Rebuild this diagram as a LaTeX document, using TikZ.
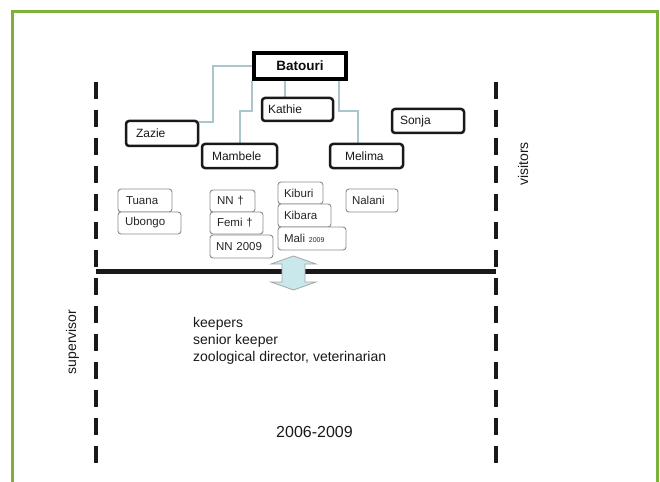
\documentclass[tikz,border=0pt]{standalone}
\usepackage{fontspec}
\setmainfont{Liberation Sans}
\usetikzlibrary{backgrounds}
\definecolor{framec}{RGB}{124,178,60}
\definecolor{connc}{RGB}{168,198,204}
\definecolor{arrowc}{RGB}{200,232,236}
\begin{document}
\begin{tikzpicture}[x=1pt,y=-1pt,
  conn/.style={draw=connc, line width=2pt},
  bigbox/.style={draw=black, line width=3.5pt, fill=white, minimum width=92pt, minimum height=26pt, inner sep=0pt, font=\fontsize{13.5}{15}\selectfont\bfseries, text=black!95},
  namebox/.style={draw=black!90, line width=2.5pt, rounded corners=3pt, fill=white, inner ysep=0pt, align=left, font=\fontsize{12}{14}\selectfont, text=black!90},
  smallbox/.style={draw=gray!90, line width=0.9pt, rounded corners=3pt, fill=white, inner ysep=0pt, align=left, font=\fontsize{11.5}{13}\selectfont, text=black!85},
  dashline/.style={line width=4pt, dash pattern=on 17pt off 11pt, draw=black!90},
  lbl/.style={font=\fontsize{14}{17}\selectfont, text=black!90, inner sep=0pt}
]
\useasboundingbox (0,0) rectangle (660,481);

% frame
\coordinate (fbl) at (12,483);
\coordinate (ftl) at (12,12);
\coordinate (ftr) at (657,12);
\coordinate (fbr) at (657,483);
\draw[framec, line width=3pt] (fbl) -- (ftl) -- (ftr) -- (fbr);

% dashed borders
\coordinate (lt) at (96,82);
\coordinate (lb) at (96,463);
\coordinate (rt) at (496,82);
\coordinate (rb) at (496,463);
\draw[dashline] (lt) -- (lb);
\draw[dashline] (rt) -- (rb);

% horizontal line
\coordinate (hl) at (96,271);
\coordinate (hr) at (496,271);
\draw[line width=5pt, black!90] (hl) -- (hr);

% double arrow
\coordinate (arr) at (293.5,273);
\draw[fill=arrowc, draw=gray!70, line width=0.8pt] (arr) ++(0,-17) -- ++(-22.5,8) -- ++(11,0) -- ++(0,18) -- ++(-11,0) -- ++(22.5,8) -- ++(22.5,-8) -- ++(-11,0) -- ++(0,-18) -- ++(11,0) -- cycle;

% family nodes
\node[bigbox] (batouri) at (300,66) {Batouri};
\node[namebox, minimum height=23pt, text width=59pt, inner xsep=6pt] (kathie) at (297.5,109.5) {Kathie};
\node[namebox, minimum height=25pt, text width=52pt, inner xsep=10pt] (zazie) at (162,133.5) {Zazie};
\node[namebox, minimum height=24pt, text width=56pt, inner xsep=8pt] (sonja) at (428,121) {Sonja};
\node[namebox, minimum height=24pt, text width=55pt, inner xsep=10pt] (mambele) at (239.5,156) {Mambele};
\node[namebox, minimum height=24pt, text width=43pt, inner xsep=15pt] (melima) at (366.5,156) {Melima};

\begin{scope}[on background layer]
\draw[conn] (batouri.west) -- ++(-39,0) |- ([yshift=11.5pt]zazie.east);
\draw[conn] (batouri.south west) -- ++(0,30) -| (mambele.north);
\draw[conn] ([xshift=-15pt]batouri.south) -- ([xshift=-12.5pt]kathie.north);
\draw[conn] ([xshift=-9pt]batouri.south east) -- ++(0,30) -| ([xshift=-8.5pt]melima.north);
\end{scope}

% second row
\node[smallbox, minimum height=23pt, text width=38pt, inner xsep=8pt] (tuana) at (145,200.5) {Tuana};
\node[smallbox, minimum height=22pt, text width=49pt, inner xsep=7pt] (ubongo) at (149.5,223) {Ubongo};
\node[smallbox, minimum height=22pt, text width=31pt, inner xsep=7pt] (nn1) at (232.5,201) {NN †};
\node[smallbox, minimum height=22pt, text width=39pt, inner xsep=7pt] (femi) at (236.5,223) {Femi †};
\node[smallbox, minimum height=23pt, text width=51pt, inner xsep=6pt] (nn2) at (241.5,246.5) {NN 2009};
\node[smallbox, minimum height=22pt, text width=33pt, inner xsep=6pt] (kiburi) at (300.5,193) {Kiburi};
\node[smallbox, minimum height=23pt, text width=41pt, inner xsep=6pt] (kibara) at (304.5,215.5) {Kibara};
\node[smallbox, minimum height=23pt, text width=56pt, inner xsep=6pt] (mali) at (312,238.5) {Mali {\fontsize{7}{8}\selectfont 2009}};
\node[smallbox, minimum height=23pt, text width=40pt, inner xsep=6pt] (nalani) at (372,200.5) {Nalani};

% labels
\node[lbl, anchor=base west] (k1) at (193,327) {keepers};
\node[lbl, anchor=base west] (k2) at (193,344) {senior keeper};
\node[lbl, anchor=base west] (k3) at (193,361) {zoological director, veterinarian};
\node[lbl, font=\fontsize{16}{18}\selectfont, anchor=base] (years) at (314.5,437) {2006-2009};
\node[lbl, rotate=90] (sup) at (72.5,342) {supervisor};
\node[lbl, rotate=90] (vis) at (523,164) {visitors};
\end{tikzpicture}
\end{document}
